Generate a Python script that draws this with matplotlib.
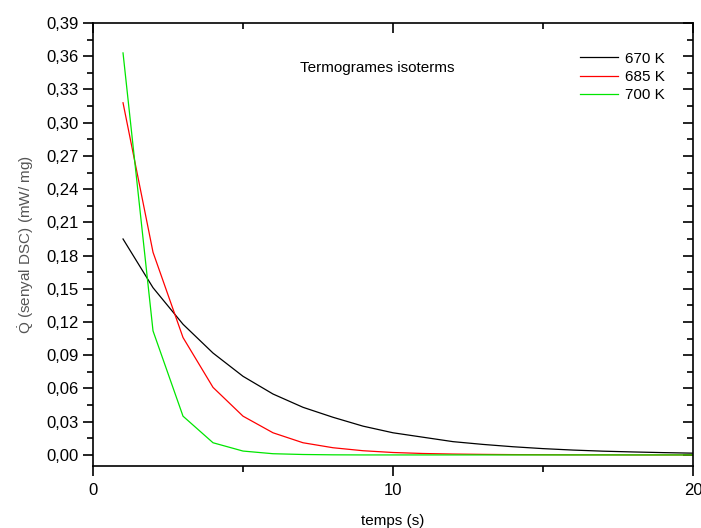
import matplotlib
matplotlib.use("Agg")
import matplotlib.pyplot as plt
from matplotlib.ticker import MultipleLocator, FuncFormatter

plt.rcParams['font.family'] = ['Liberation Sans', 'DejaVu Sans']
plt.rcParams['mathtext.fontset'] = 'custom'
plt.rcParams['mathtext.rm'] = 'Liberation Sans'
plt.rcParams['mathtext.it'] = 'Liberation Sans:italic'

# temps (s)
temps = [1, 2, 3, 4, 5, 6, 7, 8, 9, 10, 11, 12, 13, 14, 15, 16, 17, 18, 19, 20]

# senyal DSC (mW/mg) llegit del grafic
q_670 = [0.195, 0.151, 0.118, 0.092, 0.071, 0.055, 0.043, 0.034, 0.026, 0.020,
         0.016, 0.012, 0.0095, 0.0074, 0.0057, 0.0044, 0.0034, 0.0027, 0.0021, 0.0016]
q_685 = [0.318, 0.183, 0.106, 0.061, 0.035, 0.020, 0.011, 0.0065, 0.0038, 0.0022,
         0.0013, 0.0008, 0.0005, 0.0003, 0.0002, 0.0001, 0.0001, 0.0, 0.0, 0.0]
q_700 = [0.363, 0.112, 0.035, 0.011, 0.0035, 0.0011, 0.0004, 0.0001, 0.0, 0.0,
         0.0, 0.0, 0.0, 0.0, 0.0, 0.0, 0.0, 0.0, 0.0, 0.0]

labels = ['670 K', '685 K', '700 K']
colors = ['black', 'red', '#00e600']

fig = plt.figure(figsize=(7.01, 5.28), dpi=100)
ax = fig.add_axes([0.1327, 0.1174, 0.8559, 0.839])

for y, lab, c in zip([q_670, q_685, q_700], labels, colors):
    ax.plot(temps, y, color=c, lw=0.9, label=lab)

ax.set_xlim(0, 20)
ax.set_ylim(-0.01, 0.39)

comma = FuncFormatter(lambda v, p: ('%.2f' % v).replace('.', ','))
ax.yaxis.set_major_locator(MultipleLocator(0.03))
ax.yaxis.set_minor_locator(MultipleLocator(0.015))
ax.yaxis.set_major_formatter(comma)
ax.xaxis.set_major_locator(MultipleLocator(10))
ax.xaxis.set_minor_locator(MultipleLocator(5))

for s in ax.spines.values():
    s.set_linewidth(1.2)

ax.tick_params(axis='both', which='major', direction='out', length=7, width=1.2,
               labelsize=12, top=True, right=True)
ax.tick_params(axis='x', which='major', pad=5)
ax.tick_params(axis='both', which='minor', direction='out', length=4, width=1.2,
               top=True, right=True)
# ticks interiors a dalt i a la dreta
for t in ax.yaxis.get_major_ticks() + ax.yaxis.get_minor_ticks():
    t.tick2line.set_marker(matplotlib.markers.TICKLEFT)
for t in ax.xaxis.get_major_ticks() + ax.xaxis.get_minor_ticks():
    t.tick2line.set_marker(matplotlib.markers.TICKDOWN)

ax.set_xlabel('temps (s)', fontsize=11, labelpad=12)
ax.set_ylabel(r'$\dot{\mathrm{Q}}$ (senyal DSC) (mW/ mg)', fontsize=11,
              color='#555555', labelpad=7)

ax.text(0.345, 0.898, 'Termogrames isoterms', transform=ax.transAxes,
        fontsize=11, va='center')

leg = ax.legend(loc='upper left', bbox_to_anchor=(0.8117, 0.935), frameon=False,
                fontsize=11, handlelength=2.5, handletextpad=0.45,
                labelspacing=0.28, borderpad=0, borderaxespad=0)

fig.savefig('out.png', dpi=100)
